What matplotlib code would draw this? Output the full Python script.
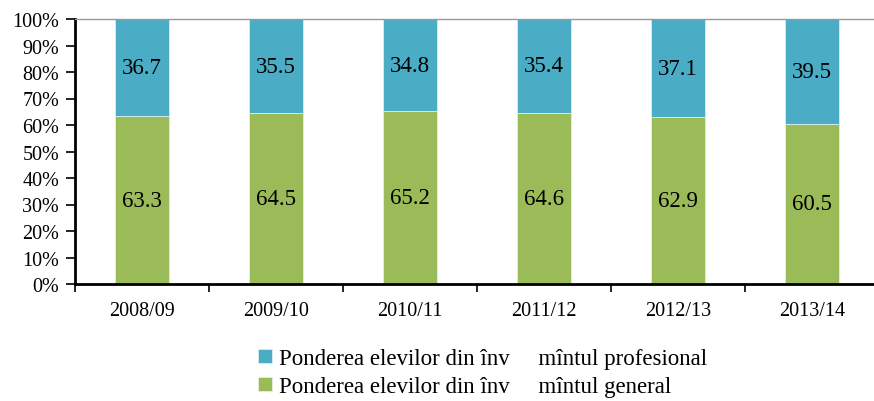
from matplotlib import pyplot as plt
from matplotlib.ticker import PercentFormatter
import numpy as np

years = ['2008/09', '2009/10', '2010/11', '2011/12', '2012/13', '2013/14']
general = [63.3, 64.5, 65.2, 64.6, 62.9, 60.5]
profesional = [36.7, 35.5, 34.8, 35.4, 37.1, 39.5]
label_prof = 'Ponderea elevilor din înv     mîntul profesional'
label_gen = 'Ponderea elevilor din înv     mîntul general'

blue = '#4BACC6'
green = '#9BBB59'

plt.rcParams['font.family'] = ['Liberation Serif', 'DejaVu Serif']


def main():
    fig = plt.figure(figsize=(8.74, 4.02), dpi=100)
    ax = fig.add_axes([75 / 874, 1 - 285 / 402, 804 / 874, 265 / 402])

    x = np.arange(len(years))
    w = 0.4
    b1 = ax.bar(x, general, w, color=green, edgecolor='#e8f0d8', linewidth=0.6,
                label=label_gen)
    b2 = ax.bar(x, profesional, w, bottom=general, color=blue,
                edgecolor='#d8eef4', linewidth=0.6, label=label_prof)

    for i in range(len(years)):
        ax.text(x[i], general[i] / 2, f'{general[i]:.1f}', ha='center',
                va='center', fontsize=16.5)
        ax.text(x[i], general[i] + profesional[i] / 2, f'{profesional[i]:.1f}',
                ha='center', va='center', fontsize=16.5)

    ax.set_xlim(-0.5, len(years) - 0.5)
    ax.set_ylim(0, 100)
    ax.set_yticks(np.arange(0, 101, 10))
    ax.yaxis.set_major_formatter(PercentFormatter(decimals=0))
    ax.set_xticks(x)
    ax.set_xticklabels(years)
    ax.set_xticks(np.arange(-0.5, len(years), 1), minor=True)
    ax.tick_params(axis='x', which='major', length=0, pad=12, labelsize=14.5)
    ax.tick_params(axis='x', which='minor', length=6, width=1.2, direction='out')
    ax.tick_params(axis='y', length=6.5, width=1.2, labelsize=14.5, pad=5)

    ax.spines['right'].set_visible(False)
    ax.spines['top'].set_color('#999999')
    ax.spines['top'].set_linewidth(1.0)
    ax.spines['left'].set_linewidth(2.0)
    ax.spines['bottom'].set_linewidth(2.0)

    fig.legend(handles=[b2, b1], loc='upper left',
               bbox_to_anchor=(249 / 874, 1 - 340 / 402), frameon=False,
               fontsize=16.5, handlelength=0.6, handleheight=0.6,
               handletextpad=0.3, labelspacing=0.3, borderaxespad=0)

    fig.savefig('out.png', dpi=100)


if __name__ == '__main__':
    main()
